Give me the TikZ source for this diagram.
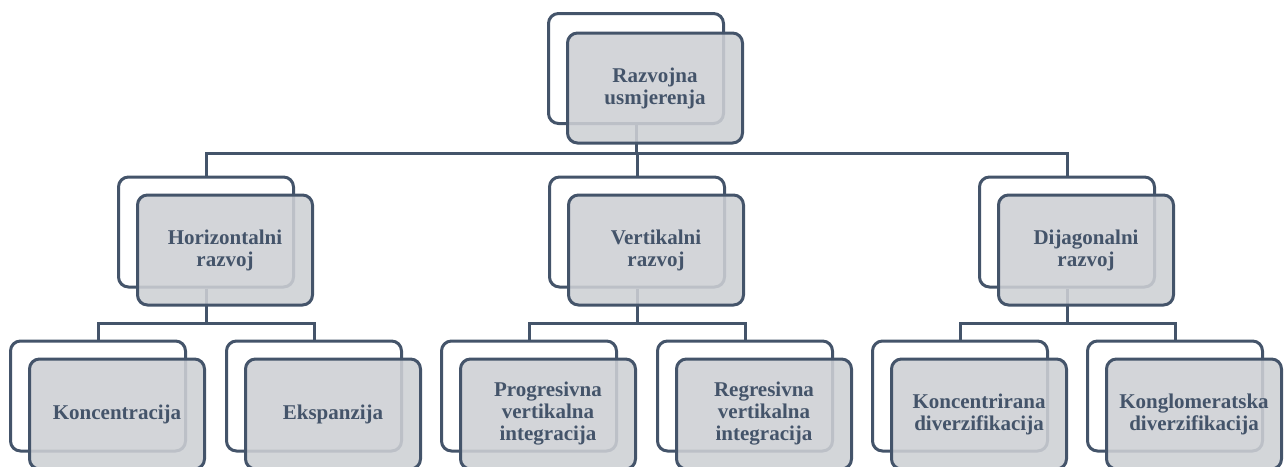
\documentclass[tikz,border=0pt]{standalone}
\usepackage{fontspec}
\setmainfont{Liberation Serif}
\definecolor{ln}{HTML}{44546A}
\definecolor{fr}{RGB}{205,208,212}
\tikzset{
  backbox/.style={draw=ln, line width=3pt, rounded corners=10pt, fill=white,
    minimum width=175pt, minimum height=110pt, inner sep=0pt},
  frontbox/.style={draw=ln, line width=3pt, rounded corners=10pt, fill=fr, fill opacity=0.88,
    text opacity=1, minimum width=175pt, minimum height=110pt, inner sep=0pt,
    align=center, text=ln, font=\bfseries\fontsize{21}{22}\selectfont},
  conn/.style={draw=ln, line width=3pt}
}
\begin{document}
\begin{tikzpicture}[x=1pt,y=-1pt]
\useasboundingbox (0,0) rectangle (1288,466);
\clip (0,0) rectangle (1288,466);
% back boxes
\node[backbox] (rb) at (636,68.5) {};
\node[backbox] (hb) at (206,232) {};
\node[backbox] (vb) at (637,232) {};
\node[backbox] (db) at (1067,232) {};
\node[backbox] (h1b) at (98,396) {};
\node[backbox] (h2b) at (314,396) {};
\node[backbox] (v1b) at (529,396) {};
\node[backbox] (v2b) at (745,396) {};
\node[backbox] (d1b) at (960,396) {};
\node[backbox] (d2b) at (1175,396) {};
% connectors
\draw[conn] (rb.south) -- ++(0,28) -| (hb.north);
\draw[conn] (rb.south) -- ++(0,28) -| (vb.north);
\draw[conn] (rb.south) -- ++(0,28) -| (db.north);
\draw[conn] (hb.south) -- ++(0,35) -| (h1b.north);
\draw[conn] (hb.south) -- ++(0,35) -| (h2b.north);
\draw[conn] (vb.south) -- ++(0,35) -| (v1b.north);
\draw[conn] (vb.south) -- ++(0,35) -| (v2b.north);
\draw[conn] (db.south) -- ++(0,35) -| (d1b.north);
\draw[conn] (db.south) -- ++(0,35) -| (d2b.north);
% front boxes
\node[frontbox] (rf) at (655,88) {Razvojna\\usmjerenja};
\node[frontbox] (hf) at (225,250) {Horizontalni\\razvoj};
\node[frontbox] (vf) at (656,250) {Vertikalni\\razvoj};
\node[frontbox] (df) at (1086,250) {Dijagonalni\\razvoj};
\node[frontbox] (h1f) at (117,414) {Koncentracija};
\node[frontbox] (h2f) at (333,414) {Ekspanzija};
\node[frontbox] (v1f) at (548,414) {Progresivna\\vertikalna\\integracija};
\node[frontbox] (v2f) at (764,414) {Regresivna\\vertikalna\\integracija};
\node[frontbox] (d1f) at (979,414) {Koncentrirana\\diverzifikacija};
\node[frontbox] (d2f) at (1194,414) {Konglomeratska\\diverzifikacija};
\end{tikzpicture}
\end{document}
